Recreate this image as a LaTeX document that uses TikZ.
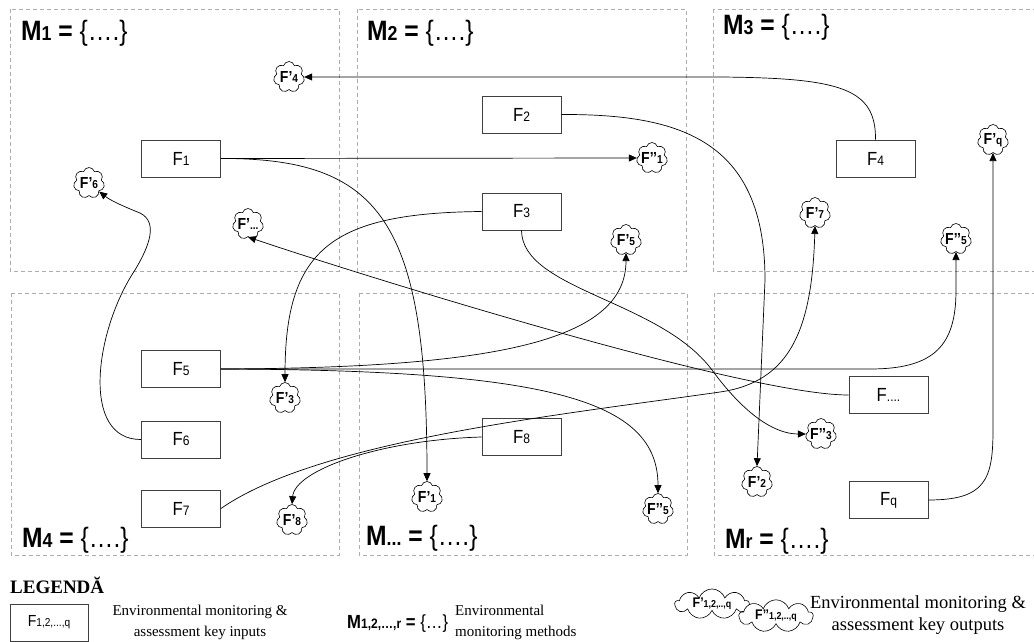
\documentclass[tikz,border=0pt]{standalone}
\usepackage{fontspec}
\setmainfont{Liberation Sans}
\newfontfamily\nsans[FakeStretch=0.88]{Liberation Sans}
\newfontfamily\serifleg{Liberation Serif}
\usetikzlibrary{shapes.symbols,arrows.meta}
\newcommand\smallpart[1]{\scalebox{0.72}{#1}}
\tikzset{
 mregion/.style={draw=black!32, dash pattern=on 4pt off 3pt, line width=0.8pt},
 fbox/.style={draw=black!75, line width=0.8pt, fill=white, minimum width=79pt, minimum height=37pt, inner sep=0pt, font=\nsans\fontsize{19}{19}\selectfont},
 outcloud/.style={cloud, cloud puffs=7, cloud puff arc=150, cloud ignores aspect, draw=black, line width=0.6pt, minimum width=31pt, minimum height=31pt, inner sep=0pt},
 cltext/.style={inner sep=0pt, font=\nsans\bfseries\fontsize{16}{16}\selectfont},
 legcloud/.style={cloud, cloud puffs=9, cloud puff arc=140, aspect=3, draw=black, line width=0.6pt, fill=white, minimum width=74pt, minimum height=24pt, inner sep=0pt, font=\nsans\bfseries\fontsize{14}{14}\selectfont},
 mlabel/.style={anchor=base west, inner sep=0pt, font=\nsans\fontsize{28}{28}\selectfont},
 legtext/.style={inner sep=0pt, font=\serifleg\fontsize{15}{21}\selectfont},
 conn/.style={line width=0.7pt, -{Triangle[length=8pt,width=7pt]}},
}
\begin{document}
\begin{tikzpicture}[x=1pt,y=-1pt]
\clip (0,0) rectangle (1034,642);
\fill[white] (0,0) rectangle (1034,642);
% method regions
\draw[mregion] (10,9) rectangle (339,271);
\draw[mregion] (357,9) rectangle (686,271);
\draw[mregion] (713,9) rectangle (1040,271);
\draw[mregion] (11,293) rectangle (339,555);
\draw[mregion] (359,293) rectangle (687,555);
\draw[mregion] (714,293) rectangle (1040,555);
\node[mlabel] (m1) at (21,41) {\textbf{M\smallpart{1} =} \{….\}};
\node[mlabel] (m2) at (367,41) {\textbf{M\smallpart{2} =} \{….\}};
\node[mlabel] (m3) at (723,35) {\textbf{M\smallpart{3} =} \{….\}};
\node[mlabel] (m4) at (22,547) {\textbf{M\smallpart{4} =} \{….\}};
\node[mlabel] (mdots) at (366,545) {\textbf{M\smallpart{...} =} \{….\}};
\node[mlabel] (mr) at (725,548) {\textbf{M\smallpart{r} =} \{….\}};
% inputs
\node[fbox] (F1) at (181,158.5) {F\smallpart{1}};
\node[fbox] (F2) at (521.5,114.5) {F\smallpart{2}};
\node[fbox] (F3) at (521.5,211.5) {F\smallpart{3}};
\node[fbox] (F4) at (875.5,158.5) {F\smallpart{4}};
\node[fbox] (F5) at (181,369) {F\smallpart{5}};
\node[fbox] (F6) at (181,439.5) {F\smallpart{6}};
\node[fbox] (F7) at (181,508.5) {F\smallpart{7}};
\node[fbox] (F8) at (521.5,437) {F\smallpart{8}};
\node[fbox] (Fd) at (888.5,395) {F\smallpart{....}};
\node[fbox] (Fq) at (888.5,500) {F\smallpart{q}};
% outputs
\node[outcloud, label={[cltext]center:F’\smallpart{4}}] (c4) at (289,77) {};
\node[outcloud, label={[cltext]center:F’\smallpart{6}}] (c6) at (89,183) {};
\node[outcloud, label={[cltext]center:F’\smallpart{...}}] (cd) at (248,224) {};
\node[outcloud, label={[cltext]center:F’’\smallpart{1}}] (cpp1) at (652,158) {};
\node[outcloud, label={[cltext]center:F’\smallpart{5}}] (c5) at (626,240) {};
\node[outcloud, label={[cltext]center:F’\smallpart{q}}] (cq) at (993,140) {};
\node[outcloud, label={[cltext]center:F’\smallpart{7}}] (c7) at (815,213) {};
\node[outcloud, label={[cltext]center:F’’\smallpart{5}}] (cpp5u) at (956,239) {};
\node[outcloud, label={[cltext]center:F’\smallpart{3}}] (c3) at (285,398) {};
\node[outcloud, label={[cltext]center:F’\smallpart{8}}] (c8) at (292,520) {};
\node[outcloud, label={[cltext]center:F’\smallpart{1}}] (c1) at (427,497) {};
\node[outcloud, label={[cltext]center:F’’\smallpart{5}}] (cpp5) at (658,509) {};
\node[outcloud, label={[cltext]center:F’’\smallpart{3}}] (cpp3) at (821,434) {};
\node[outcloud, label={[cltext]center:F’\smallpart{2}}] (c2) at (757,482) {};
% connectors
\draw[conn] (F4.north) .. controls (876,88) and (840,78) .. (720,77) -- (c4.east);
\draw[conn] (F1.east) -- (cpp1.west);
\draw[conn] (F1.east) .. controls (380,158) and (427,220) .. (c1.north);
\draw[conn] (F2.east) .. controls (680,114) and (765,140) .. (765,280) -- (c2.north);
\draw[conn] (F3.west) .. controls (330,213) and (285,250) .. (c3.north);
\draw[conn] (F3.south) .. controls (522,290) and (660,300) .. (712,370) .. controls (745,415) and (775,434) .. (cpp3.west);
\draw[conn] (Fd.west) .. controls (740,395) and (330,265) .. (cd.south);
\draw[conn] (F5.east) .. controls (500,368) and (626,340) .. (c5.south);
\draw[conn] (F5.east) -- (870,369) .. controls (935,369) and (956,345) .. (956,290) -- (cpp5u.south);
\draw[conn] (F5.east) .. controls (550,370) and (658,400) .. (cpp5.north);
\draw[conn] (F6.west) .. controls (80,440) and (95,330) .. (135,270) .. controls (150,245) and (158,222) .. (140,213) .. controls (120,205) and (110,200) .. (c6.-40);
\draw[conn] (F7.east) .. controls (320,440) and (560,415) .. (720,392) .. controls (790,382) and (812,330) .. (c7.south);
\draw[conn] (F8.west) .. controls (380,440) and (295,470) .. (c8.north);
\draw[conn] (Fq.east) .. controls (985,500) and (993,480) .. (993,430) -- (cq.south);
% legend
\node[anchor=base west, inner sep=0pt, font=\serifleg\bfseries\fontsize{19}{19}\selectfont] (leg) at (10,593) {LEGENDĂ};
\node[fbox, minimum width=78pt, minimum height=37pt, font=\nsans\fontsize{16}{16}\selectfont] (lbox) at (49,622.5) {F\smallpart{1,2,...,q}};
\node[legtext, align=center] (lt1) at (200,622) {Environmental monitoring \&\\assessment key inputs};
\node[anchor=west, inner sep=0pt, font=\nsans\fontsize{19}{19}\selectfont] (lm) at (347,624) {\textbf{M\smallpart{1,2,…,r} =} \{…\}};
\node[legtext, align=left, anchor=west] (lt2) at (455,622) {Environmental\\monitoring methods};
\node[legcloud] (lc1) at (712,604) {F’\smallpart{1,2,..,q}};
\node[legcloud] (lc2) at (776,616) {F’’\smallpart{1,2,..,q}};
\node[inner sep=0pt, align=center, anchor=base, font=\serifleg\fontsize{18.5}{22}\selectfont] (lt3) at (918,630) {Environmental monitoring \&\\assessment key outputs};
\end{tikzpicture}
\end{document}
